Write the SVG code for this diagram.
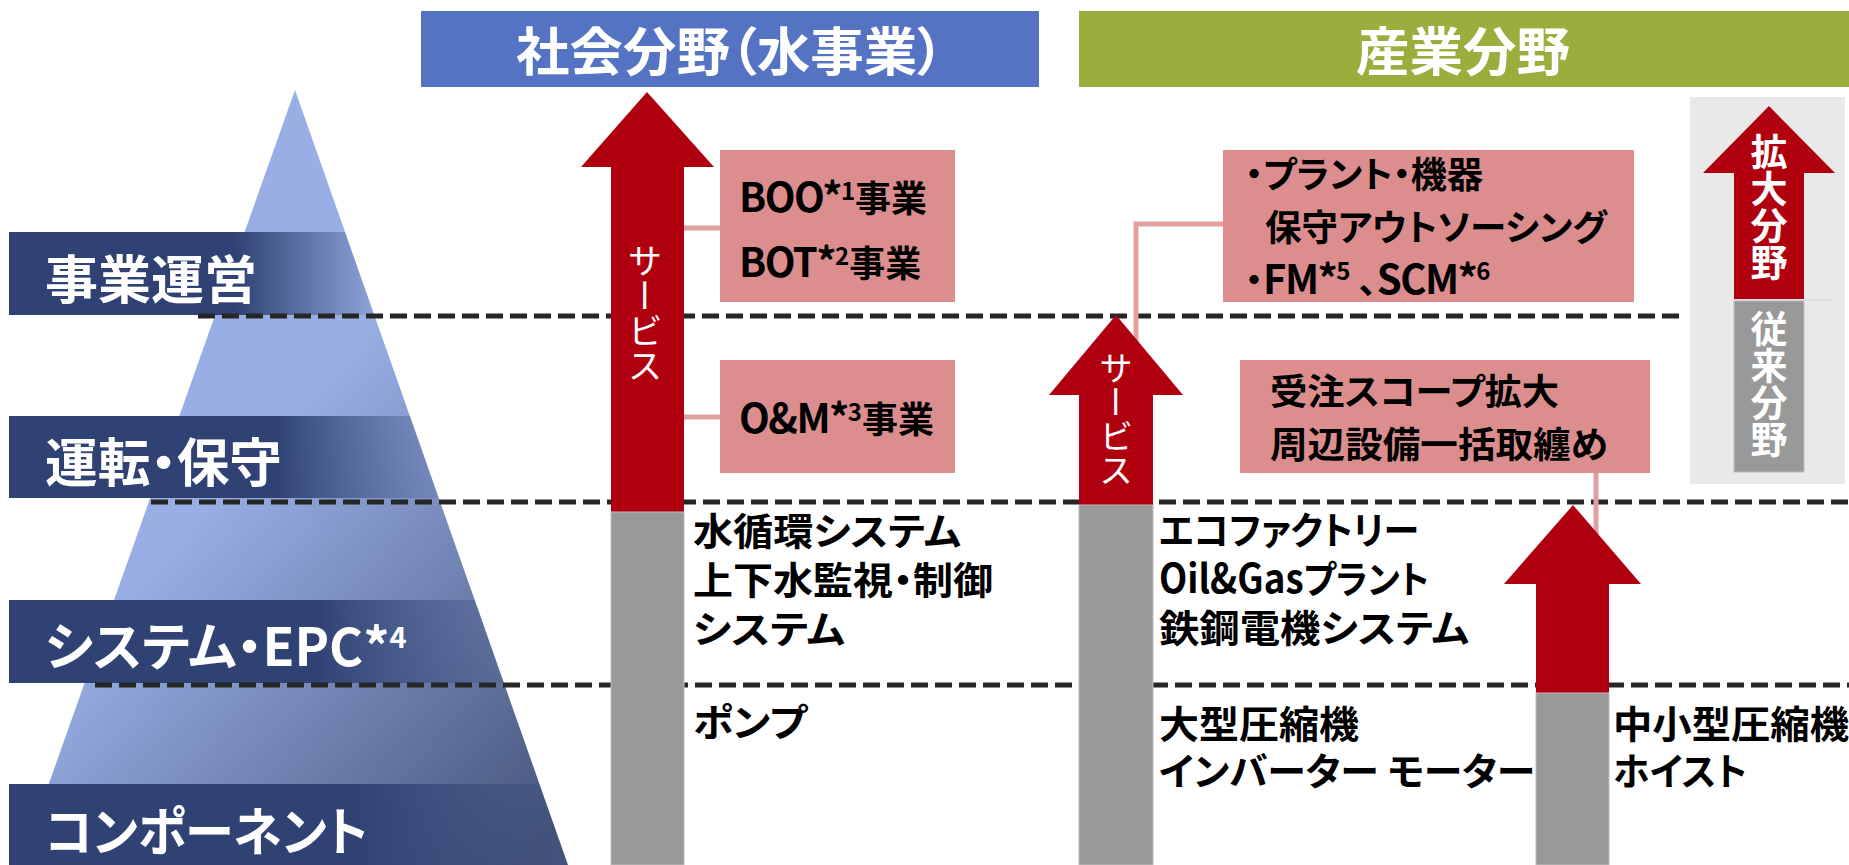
<svg xmlns="http://www.w3.org/2000/svg" width="1849" height="865" viewBox="0 0 1849 865">
<defs>
<linearGradient id="pyr" gradientUnits="userSpaceOnUse" x1="230" y1="480" x2="580" y2="800">
<stop offset="0" stop-color="#98AEE4"/>
<stop offset="1" stop-color="#46557C"/>
</linearGradient>
<linearGradient id="bar" x1="0" y1="0" x2="1" y2="0">
<stop offset="0" stop-color="#2F4273"/>
<stop offset="0.62" stop-color="#2F4273"/>
<stop offset="1" stop-color="#2F4273" stop-opacity="0.1"/>
</linearGradient>
</defs>
<style>
text { font-family: "Noto Sans CJK JP", "Noto Sans", sans-serif; }
.p { font-feature-settings: "palt" 1; }
.hdr { fill:#fff; font-weight:bold; font-size:52px; }
.lvl { fill:#fff; font-weight:bold; font-size:52px; }
.bt { fill:#000; font-weight:bold; font-size:36px; }
.gt { fill:#000; font-weight:bold; font-size:38px; }
.lat { font-size:40px; letter-spacing:-1.5px; }
.sup { font-size:24px; }
.vt { fill:#fff; writing-mode: vertical-rl; }
.dash { stroke:#262626; stroke-width:5; stroke-dasharray:17 7; fill:none; }
.red { fill:#B00010; }
.gray { fill:#999999; stroke:#BDBDBD; stroke-width:1; }
.pink { fill:#DC8E8E; }
.conn { stroke:#E0A0A0; stroke-width:5; fill:none; }
</style>
<rect width="1849" height="865" fill="#fff"/>

<g id="pyramid">
<polygon points="295,90 568,865 20,865" fill="url(#pyr)"/>
</g>

<g id="level-operation">
<polygon points="9,232 345,232 374,315 9,315" fill="url(#bar)"/>
<text class="lvl p" x="45" y="299" textLength="212" lengthAdjust="spacingAndGlyphs">事業運営</text>
</g>
<g id="level-maintenance">
<polygon points="9,416 410,416 439,498 9,498" fill="url(#bar)"/>
<text class="lvl p" x="45" y="482" textLength="237" lengthAdjust="spacingAndGlyphs">運転・保守</text>
</g>
<g id="level-system">
<polygon points="9,600 475,600 504,683 9,683" fill="url(#bar)"/>
<text class="lvl p" x="45" y="666" font-size="51">システム・EPC*<tspan font-size="29" dy="-18">4</tspan></text>
</g>
<g id="level-component">
<polygon points="9,784 539,784 568,865 9,865" fill="url(#bar)"/>
<text class="lvl p" x="45" y="851" textLength="323" lengthAdjust="spacingAndGlyphs">コンポーネント</text>
</g>

<g id="dividers">
<line class="dash" x1="198" y1="316" x2="1686" y2="316"/>
<line class="dash" x1="151" y1="502" x2="1849" y2="502"/>
<line class="dash" x1="95" y1="685" x2="1849" y2="685"/>
</g>

<g id="header-social">
<rect x="421" y="11" width="618" height="76" fill="#5473C3"/>
<text class="hdr p" x="516" y="71" textLength="428" lengthAdjust="spacingAndGlyphs">社会分野（水事業）</text>
</g>
<g id="header-industry">
<rect x="1079" y="11" width="770" height="76" fill="#9BAE3D"/>
<text class="hdr" x="1356" y="71" font-size="53" textLength="214" lengthAdjust="spacingAndGlyphs">産業分野</text>
</g>

<g id="connectors">
<line class="conn" x1="684" y1="228" x2="720" y2="228"/>
<line class="conn" x1="684" y1="417" x2="720" y2="417"/>
<polyline class="conn" points="1223,224 1136,224 1136,345"/>
<line class="conn" x1="1596" y1="473" x2="1596" y2="545"/>
</g>

<g id="arrow-social-service">
<polygon class="red" points="647,92 714,167 684,167 684,512 611,512 611,167 581,167"/>
<rect class="gray" x="611" y="512" width="73" height="353"/>
<text class="vt" x="645" y="243" font-size="35">サービス</text>
</g>

<g id="box-boo-bot">
<rect class="pink" x="720" y="150" width="235" height="152"/>
<text class="bt" x="739" y="212"><tspan class="lat">BOO*</tspan><tspan class="sup" dy="-12">1</tspan><tspan dy="12">事業</tspan></text>
<text class="bt" x="739" y="277"><tspan class="lat">BOT*</tspan><tspan class="sup" dy="-12">2</tspan><tspan dy="12">事業</tspan></text>
</g>

<g id="box-om">
<rect class="pink" x="720" y="360" width="235" height="113"/>
<text class="bt" x="739" y="433"><tspan class="lat">O&amp;M*</tspan><tspan class="sup" dy="-12">3</tspan><tspan dy="12">事業</tspan></text>
</g>

<g id="social-system">
<text class="gt p" x="693" y="545" textLength="268" lengthAdjust="spacingAndGlyphs">水循環システム</text>
<text class="gt p" x="693" y="594" textLength="300" lengthAdjust="spacingAndGlyphs">上下水監視・制御</text>
<text class="gt p" x="693" y="643" textLength="152" lengthAdjust="spacingAndGlyphs">システム</text>
</g>
<g id="social-component">
<text class="gt p" x="693" y="736" textLength="114" lengthAdjust="spacingAndGlyphs">ポンプ</text>
</g>

<g id="arrow-industry-service">
<polygon class="red" points="1116,315 1183,395 1153,395 1153,505 1079,505 1079,395 1049,395"/>
<rect class="gray" x="1079" y="505" width="74" height="360"/>
<text class="vt" x="1116" y="351" font-size="34">サービス</text>
</g>

<g id="box-plant">
<rect class="pink" x="1223" y="150" width="411" height="152"/>
<text class="bt p" x="1245" y="188" textLength="238" lengthAdjust="spacingAndGlyphs">・プラント・機器</text>
<text class="bt p" x="1265" y="241" textLength="342" lengthAdjust="spacingAndGlyphs">保守アウトソーシング</text>
<text class="bt p" x="1245" y="294">・<tspan class="lat">FM*</tspan><tspan class="sup" dy="-14">5</tspan><tspan dy="14"> 、</tspan><tspan class="lat">SCM*</tspan><tspan class="sup" dy="-14">6</tspan></text>
</g>

<g id="box-scope">
<rect class="pink" x="1240" y="360" width="410" height="113"/>
<text class="bt p" x="1270" y="405" textLength="289" lengthAdjust="spacingAndGlyphs">受注スコープ拡大</text>
<text class="bt p" x="1270" y="458" font-size="37" textLength="338" lengthAdjust="spacingAndGlyphs">周辺設備一括取纏め</text>
</g>

<g id="arrow-industry-scope">
<polygon class="red" points="1573,505 1641,584 1609,584 1609,693 1536,693 1536,584 1504,584"/>
<rect class="gray" x="1536" y="693" width="73" height="172"/>
</g>

<g id="industry-system">
<text class="gt p" x="1159" y="544" textLength="260" lengthAdjust="spacingAndGlyphs">エコファクトリー</text>
<text class="gt p" x="1159" y="593" textLength="270" lengthAdjust="spacingAndGlyphs"><tspan font-size="40">Oil&amp;Gas</tspan>プラント</text>
<text class="gt p" x="1159" y="642" textLength="310" lengthAdjust="spacingAndGlyphs">鉄鋼電機システム</text>
</g>
<g id="industry-component">
<text class="gt p" x="1159" y="738" textLength="200" lengthAdjust="spacingAndGlyphs">大型圧縮機</text>
<text class="gt p" x="1159" y="785" textLength="376" lengthAdjust="spacingAndGlyphs">インバーター モーター</text>
</g>
<g id="industry-small">
<text class="gt p" x="1613" y="738" textLength="236" lengthAdjust="spacingAndGlyphs">中小型圧縮機</text>
<text class="gt p" x="1613" y="785" textLength="134" lengthAdjust="spacingAndGlyphs">ホイスト</text>
</g>

<g id="legend">
<rect x="1690" y="97" width="155" height="387" fill="#E9E9E9"/>
<polygon class="red" points="1769,106 1835,173 1804,173 1804,299 1734,299 1734,173 1703,173"/>
<line x1="1734" y1="300" x2="1833" y2="300" stroke="#D4D4D4" stroke-width="1"/>
<rect class="gray" x="1734" y="301" width="70" height="171"/>
<text class="vt" x="1769" y="133" font-size="37" font-weight="bold">拡大分野</text>
<text class="vt" x="1769" y="310" font-size="37" font-weight="bold" fill="#F4F4F4">従来分野</text>
</g>
</svg>
